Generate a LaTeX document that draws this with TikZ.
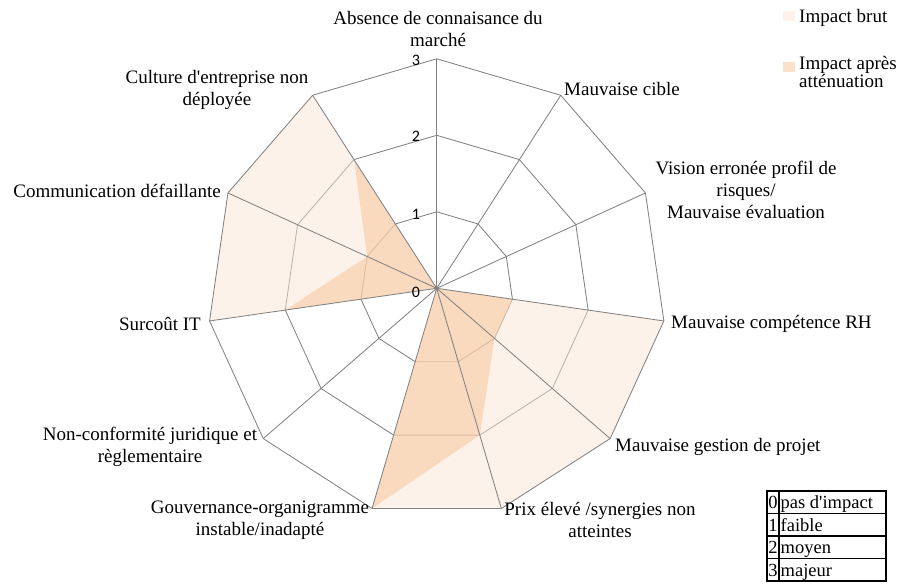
\documentclass[tikz,border=0pt]{standalone}
\usepackage{fontspec}
\setmainfont{Liberation Serif}
\newfontfamily\labelfont{Liberation Serif}
\newfontfamily\ticksfont{Carlito}
\definecolor{gridgray}{RGB}{130,130,130}
\definecolor{brutfill}{RGB}{251,229,211}
\definecolor{attfill}{RGB}{247,195,150}

\begin{document}
\begin{tikzpicture}[x=1pt,y=-1pt,
  lbl/.style={font=\labelfont\fontsize{19}{22}\selectfont, inner sep=0pt, align=center},
  legtxt/.style={font=\labelfont\fontsize{19}{19}\selectfont, inner sep=0pt, align=left},
  tabtxt/.style={font=\labelfont\fontsize{18.5}{20}\selectfont, inner sep=0pt},
  tick/.style={font=\ticksfont\fontsize{16}{18}\selectfont, inner sep=0pt},
  ring/.style={draw=gridgray, line width=0.85pt, line join=round},
  spoke/.style={draw=gridgray, line width=0.85pt},
  valaxis/.style={draw=gridgray, line width=1.4pt},
  brut/.style={fill=brutfill, fill opacity=0.5},
  att/.style={fill=attfill, fill opacity=0.5},
  tabline/.style={draw=black, line width=1.2pt}]
\useasboundingbox (0,0) rectangle (900,586);

% centre and level geometry of the radar
\def\cx{436.7}
\def\cy{288.3}
\def\lev{76.5}
\coordinate (O) at (\cx,\cy);
\foreach \i in {0,...,10}{
  \pgfmathsetmacro\ang{\i*360/11}
  \foreach \k in {1,2,3}{
    \coordinate (p\i-\k) at ({\cx+\k*\lev*sin(\ang)},{\cy-\k*\lev*cos(\ang)});
  }
}

% inner rings (levels 1 and 2)
\foreach \k in {1,2}{
  \draw[ring] (p0-\k) \foreach \i in {1,...,10}{ -- (p\i-\k) } -- cycle;
}

% series: raw impact, then impact after mitigation
\fill[brut] (O) -- (p3-3) -- (p4-3) -- (p5-3) -- (p6-3) -- (O)
  -- (p8-3) -- (p9-3) -- (p10-3) -- cycle;
\fill[att] (O) -- (p3-1) -- (p4-1) -- (p5-2) -- (p6-3) -- (O)
  -- (p8-2) -- (p9-1) -- (p10-2) -- cycle;

% spokes, outer ring and value axis
\foreach \i in {1,...,10}{ \draw[spoke] (O) -- (p\i-3); }
\draw[ring] (p0-3) \foreach \i in {1,...,10}{ -- (p\i-3) } -- cycle;
\draw[valaxis] (O) -- (p0-3);
\fill[gridgray] (O) circle (2);

% value axis ticks
\node[tick] (t0) at (416,292) {0};
\node[tick] (t1) at (416,214.5) {1};
\node[tick] (t2) at (416,136) {2};
\node[tick] (t3) at (416,60) {3};

% category labels
\node[lbl] (c0) at (438,29) {Absence de connaisance du\\marché};
\node[lbl, anchor=west] (c1) at (564,89) {Mauvaise cible};
\node[lbl] (c2) at (746,190) {Vision erronée profil de\\risques/\\Mauvaise évaluation};
\node[lbl, anchor=west] (c3) at (671,324) {Mauvaise compétence RH};
\node[lbl, anchor=west] (c4) at (615,447) {Mauvaise gestion de projet};
\node[lbl] (c5) at (600,520) {Prix élevé /synergies non\\atteintes};
\node[lbl] (c6) at (260,520) {Gouvernance-organigramme\\instable/inadapté};
\node[lbl] (c7) at (150,447) {Non-conformité juridique et\\règlementaire};
\node[lbl, anchor=east] (c8) at (201,324) {Surcoût IT};
\node[lbl, anchor=east] (c9) at (221,191) {Communication défaillante};
\node[lbl] (c10) at (217,90) {Culture d\textquotesingle entreprise non\\déployée};

% legend
\path[brut] (783,11) rectangle (795,21);
\path[att] (783,62) rectangle (795,72);
\node[legtxt, anchor=base west] (lg1) at (799,22.5) {Impact brut};
\node[legtxt, anchor=base west] (lg2) at (799,69.5) {Impact après};
\node[legtxt, anchor=base west] (lg3) at (799,88) {atténuation};

% scale table
\draw[tabline] (767,491) rectangle (886,581);
\foreach \y in {513.5,536,558.5}{ \draw[tabline] (767,\y) -- (886,\y); }
\draw[tabline] (779,491) -- (779,581);
\node[tabtxt, anchor=base] (n0) at (773,508.5) {0};
\node[tabtxt, anchor=base west] (d0) at (780.5,508.5) {pas d\textquotesingle impact};
\node[tabtxt, anchor=base] (n1) at (773,531) {1};
\node[tabtxt, anchor=base west] (d1) at (780.5,531) {faible};
\node[tabtxt, anchor=base] (n2) at (773,553.5) {2};
\node[tabtxt, anchor=base west] (d2) at (780.5,553.5) {moyen};
\node[tabtxt, anchor=base] (n3) at (773,576) {3};
\node[tabtxt, anchor=base west] (d3) at (780.5,576) {majeur};
\end{tikzpicture}
\end{document}
